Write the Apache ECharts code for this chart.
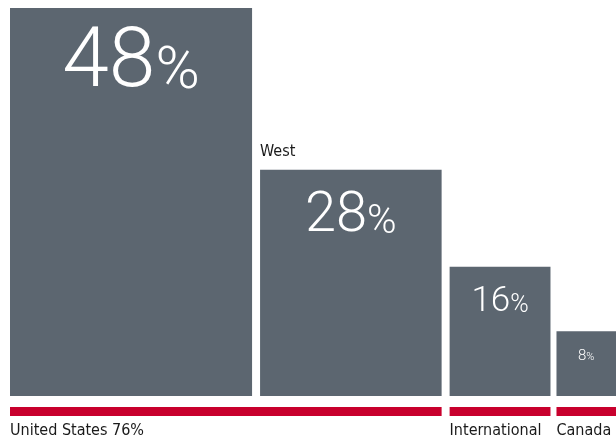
<!DOCTYPE html>
<html><head><meta charset="utf-8">
<script src="https://cdn.jsdelivr.net/npm/echarts@6/dist/echarts.min.js"></script>
<style>html,body{margin:0;padding:0;background:#fff}#c{width:616px;height:446px}</style>
</head><body><div id="c"></div>
<script>
// ---- data ----
const regions = ['', 'West', '', ''];
const shares = [48, 28, 16, 8];
const columnWidths = [48, 36, 20, 12];
const groupLabels = ['United States 76%', 'International', 'Canada'];
const groupFirst = [0, 2, 3];
const groupLast = [1, 2, 3];

// ---- style ----
const BAR_COLOR = '#5c6670';
const RED = '#c8002d';
const GAP_OFFSETS = [0, 8, 16, 22];
const NUM_SIZE = [84, 56, 35, 15];
const NUM_GAP = [26, 27, 23, 19];
const NUM_FONT = 'Roboto';
const NUM_WEIGHT = 300;
const PCT_RATIO = 0.72;
const LABEL_SIZE = 16;
const LABEL_FONT = "'Liberation Sans Narrow', 'DejaVu Sans Condensed', 'Roboto Condensed', sans-serif";

const starts = [];
let acc = 0;
columnWidths.forEach(w => { starts.push(acc); acc += w; });
const total = acc;

const mctx = document.createElement('canvas').getContext('2d');
function measure(t, size) {
  mctx.font = NUM_WEIGHT + ' ' + size + 'px ' + NUM_FONT;
  return mctx.measureText(t).width;
}

const barData = shares.map((v, i) => [starts[i], columnWidths[i], v, i]);
const groupData = groupLabels.map((g, k) => [starts[groupFirst[k]], starts[groupLast[k]] + columnWidths[groupLast[k]], groupFirst[k], groupLast[k]]);

const chart = echarts.init(document.getElementById('c'), null, {renderer: 'canvas'});
chart.setOption({
  animation: false,
  grid: {left: 10, right: 21, top: 8, bottom: 50},
  xAxis: {type: 'value', min: 0, max: total, show: false},
  yAxis: {type: 'value', min: 0, max: 48, show: false},
  series: [
    {
      type: 'custom',
      data: barData,
      clip: false,
      renderItem(params, api) {
        const i = api.value(3);
        const s = api.value(0), w = api.value(1), v = api.value(2);
        const pTop = api.coord([s, v]);
        const pBot = api.coord([s + w, 0]);
        const x0 = pTop[0] + GAP_OFFSETS[i], x1 = pBot[0] + GAP_OFFSETS[i];
        const top = pTop[1], bot = pBot[1];
        const cx = (x0 + Math.min(x1, 616)) / 2;
        const ns = NUM_SIZE[i], ps = Math.round(ns * PCT_RATIO);
        const numT = String(v), pctT = '%';
        const wn = measure(numT, ns), wp = measure(pctT, ps);
        const left = cx - (wn + wp) / 2;
        const base = top + NUM_GAP[i] + 0.711 * ns;
        const children = [
          {type: 'rect', shape: {x: x0, y: top, width: x1 - x0, height: bot - top}, style: {fill: BAR_COLOR}},
          {type: 'text', style: {text: numT, x: left, y: base - 0.342 * ns, align: 'left', verticalAlign: 'middle', fontSize: ns, fontFamily: NUM_FONT, fontWeight: NUM_WEIGHT, fill: '#fff'}},
          {type: 'text', style: {text: pctT, x: left + wn, y: base - 0.342 * ps, align: 'left', verticalAlign: 'middle', fontSize: ps, fontFamily: NUM_FONT, fontWeight: NUM_WEIGHT, fill: '#fff'}}
        ];
        if (regions[i]) {
          children.push({type: 'text', style: {text: regions[i], x: x0, y: top - 17.5, align: 'left', verticalAlign: 'middle', fontSize: LABEL_SIZE, fontFamily: LABEL_FONT, fill: '#1a1a1a'}});
        }
        return {type: 'group', children};
      }
    },
    {
      type: 'custom',
      data: groupData,
      clip: false,
      renderItem(params, api) {
        const a = api.value(0), b = api.value(1), f = api.value(2), l = api.value(3);
        const p0 = api.coord([a, 0]), p1 = api.coord([b, 0]);
        const x0 = p0[0] + GAP_OFFSETS[f], x1 = p1[0] + GAP_OFFSETS[l];
        const y = p0[1];
        return {type: 'group', children: [
          {type: 'rect', shape: {x: x0, y: y + 11, width: x1 - x0, height: 9}, style: {fill: RED}},
          {type: 'text', style: {text: groupLabels[params.dataIndex], x: x0, y: y + 35, align: 'left', verticalAlign: 'middle', fontSize: LABEL_SIZE, fontFamily: LABEL_FONT, fill: '#1a1a1a'}}
        ]};
      }
    }
  ]
});
</script>
</body></html>
